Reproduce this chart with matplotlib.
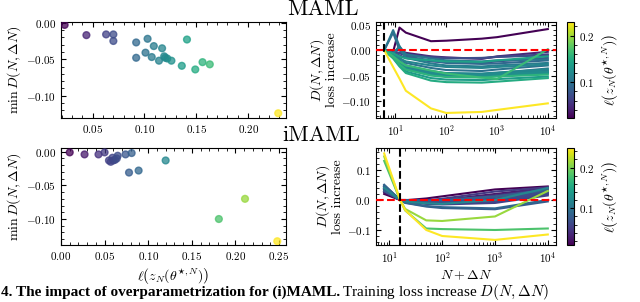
import numpy as np
import matplotlib
matplotlib.use("Agg")
import matplotlib.pyplot as plt
from matplotlib import cm, colors

plt.rcParams["font.family"] = "cmr10"
plt.rcParams["mathtext.fontset"] = "cm"
plt.rcParams["axes.formatter.use_mathtext"] = True
plt.rcParams["axes.unicode_minus"] = True

# ---- MAML: per-task loss at N and min loss increase ----
maml_loss = [0.023, 0.044, 0.063, 0.070, 0.070, 0.092, 0.092, 0.101, 0.103, 0.107, 0.109, 0.114,
             0.117, 0.119, 0.120, 0.122, 0.126, 0.136, 0.141, 0.149, 0.156, 0.163, 0.229]
maml_min = [-0.003, -0.017, -0.016, -0.016, -0.025, -0.027, -0.048, -0.041, -0.022, -0.047, -0.032, -0.052,
            -0.035, -0.046, -0.048, -0.049, -0.052, -0.059, -0.023, -0.064, -0.054, -0.057, -0.124]

maml_n = [6, 9, 12, 16, 50, 100, 500, 1000, 10000]
maml_curves = [
    [0, -0.003, 0.045, 0.035, 0.018, 0.019, 0.023, 0.026, 0.042],
    [0, -0.002, 0.002, -0.005, -0.012, -0.014, -0.017, -0.012, -0.003],
    [0, -0.003, -0.005, -0.008, -0.013, -0.015, -0.016, -0.013, -0.008],
    [0, -0.002, -0.006, -0.010, -0.014, -0.016, -0.015, -0.013, -0.010],
    [0, -0.004, -0.010, -0.015, -0.022, -0.024, -0.025, -0.022, -0.015],
    [0, 0.035, 0.000, -0.012, -0.020, -0.025, -0.027, -0.026, -0.020],
    [0, -0.010, -0.020, -0.030, -0.042, -0.046, -0.048, -0.046, -0.040],
    [0, -0.008, -0.015, -0.025, -0.035, -0.039, -0.041, -0.038, -0.030],
    [0, 0.040, 0.008, -0.008, -0.016, -0.020, -0.022, -0.020, -0.018],
    [0, -0.012, -0.022, -0.032, -0.043, -0.046, -0.047, -0.045, -0.036],
    [0, -0.006, 0.008, -0.015, -0.026, -0.030, -0.032, -0.030, -0.025],
    [0, -0.012, -0.025, -0.035, -0.048, -0.051, -0.052, -0.050, -0.045],
    [0, -0.008, -0.016, -0.022, -0.030, -0.033, -0.035, -0.033, -0.028],
    [0, -0.010, -0.020, -0.030, -0.041, -0.045, -0.046, -0.044, -0.038],
    [0, -0.011, -0.022, -0.033, -0.044, -0.047, -0.048, -0.046, -0.042],
    [0, -0.012, -0.024, -0.036, -0.046, -0.048, -0.049, -0.047, -0.043],
    [0, -0.014, -0.027, -0.038, -0.049, -0.051, -0.052, -0.050, -0.046],
    [0, -0.015, -0.030, -0.042, -0.055, -0.058, -0.059, -0.057, -0.052],
    [0, -0.006, -0.012, -0.016, -0.020, -0.022, -0.023, -0.020, -0.012],
    [0, -0.016, -0.032, -0.045, -0.060, -0.063, -0.064, -0.062, -0.055],
    [0, -0.014, -0.028, -0.038, -0.050, -0.053, -0.054, -0.052, -0.048],
    [0, -0.012, -0.022, -0.030, -0.040, -0.046, -0.054, -0.057, 0.002],
    [0, -0.033, -0.056, -0.080, -0.115, -0.124, -0.122, -0.118, -0.105],
]
maml_N = 6

# ---- iMAML ----
imaml_loss = [0.010, 0.027, 0.043, 0.050, 0.055, 0.057, 0.059, 0.060, 0.062, 0.064,
              0.065, 0.074, 0.078, 0.081, 0.089, 0.120, 0.181, 0.211, 0.248]
imaml_min = [-0.001, -0.004, -0.004, -0.001, -0.013, -0.015, -0.009, -0.013, -0.012, -0.010,
             -0.006, -0.004, -0.031, -0.002, -0.028, -0.013, -0.100, -0.070, -0.133]

imaml_n = [8, 16, 20, 50, 100, 1000, 10000]
imaml_curves = [
    [0.020, 0, -0.001, 0.005, 0.012, 0.035, 0.045],
    [0.025, 0, -0.002, -0.004, 0.000, 0.020, 0.040],
    [0.030, 0, -0.002, -0.004, -0.002, 0.015, 0.038],
    [0.030, 0, 0.000, -0.001, 0.004, 0.028, 0.042],
    [0.040, 0, -0.005, -0.011, -0.013, -0.005, 0.020],
    [0.035, 0, -0.006, -0.013, -0.015, -0.010, 0.015],
    [0.045, 0, -0.004, -0.008, -0.009, 0.000, 0.025],
    [0.050, 0, -0.005, -0.011, -0.013, -0.006, 0.020],
    [0.040, 0, -0.005, -0.010, -0.012, -0.004, 0.022],
    [0.045, 0, -0.004, -0.009, -0.010, 0.000, 0.028],
    [0.035, 0, -0.003, -0.005, -0.006, 0.005, 0.030],
    [0.040, 0, -0.002, -0.004, -0.002, 0.010, 0.035],
    [0.045, 0, -0.010, -0.022, -0.027, -0.031, -0.005],
    [0.030, 0, -0.001, -0.002, 0.000, 0.012, 0.033],
    [0.050, 0, -0.009, -0.020, -0.024, -0.028, 0.000],
    [0.040, 0, -0.005, -0.011, -0.013, 0.000, 0.040],
    [0.130, 0, -0.035, -0.095, -0.097, -0.100, -0.095],
    [0.145, 0, -0.030, -0.068, -0.070, -0.055, 0.030],
    [0.155, 0, -0.034, -0.100, -0.120, -0.133, -0.115],
]
imaml_N = 16

xlabel_loss = r"$\ell\left(z_N(\theta^{\star,N})\right)$"
W, H = 640, 302
fig = plt.figure(figsize=(W / 100, H / 100), dpi=100)


def box(l, t, r, b):
    return [l / W, 1 - b / H, (r - l) / W, (b - t) / H]


def style(ax):
    ax.minorticks_on()
    ax.tick_params(which="both", direction="in", top=True, right=True, labelsize=8)
    ax.tick_params(which="major", length=3.5)
    ax.tick_params(which="minor", length=2)


def row(top, bot, loss, mn, ns, curves, N, xlim_l, ylim_l, ylim_r, xticks_l, show_xlabel):
    norm = colors.Normalize(min(loss), max(loss))
    cmap = plt.get_cmap("viridis")

    ax1 = fig.add_axes(box(61, top, 286, bot))
    ax1.scatter(loss, mn, c=loss, cmap=cmap, norm=norm, s=24, alpha=0.75,
                edgecolors="face", linewidths=1.0, zorder=3)
    ax1.set_xlim(*xlim_l)
    ax1.set_ylim(*ylim_l)
    ax1.set_xticks(xticks_l)
    ax1.set_ylabel(r"$\min\, D(N, \Delta N)$", fontsize=10, labelpad=2)
    style(ax1)

    ax2 = fig.add_axes(box(376, top, 556, bot))
    for l, c in zip(loss, curves):
        ax2.plot(ns, c, color=cmap(norm(l)), lw=1.5)
    ax2.set_xscale("log")
    ax2.axhline(0, color="red", ls="--", lw=1.5, zorder=5)
    ax2.axvline(N, color="black", ls="--", lw=1.5, zorder=5)
    ax2.set_ylim(*ylim_r)
    ax2.set_ylabel("$D(N, \\Delta N)$\nloss increase", fontsize=10, labelpad=2, linespacing=1.0)
    style(ax2)

    cax = fig.add_axes(box(567, top, 574, bot))
    cb = fig.colorbar(cm.ScalarMappable(norm=norm, cmap=cmap), cax=cax)
    cb.set_ticks([0.1, 0.2])
    cb.ax.tick_params(labelsize=8, direction="in", length=3)
    cb.ax.minorticks_on()
    cb.set_label(xlabel_loss, fontsize=10, labelpad=4)

    if show_xlabel:
        ax1.set_xlabel(xlabel_loss, fontsize=10, labelpad=3)
        ax2.set_xlabel(r"$N + \Delta N$", fontsize=10, labelpad=3)
    return ax1, ax2


row(22, 118, maml_loss, maml_min, maml_n, maml_curves, maml_N,
    (0.0195, 0.2365), (-0.1305, 0.001), (-0.134, 0.056), [0.05, 0.10, 0.15, 0.20], False)
row(148, 245, imaml_loss, imaml_min, imaml_n, imaml_curves, imaml_N,
    (0.0, 0.258), (-0.1386, 0.0055), (-0.15, 0.173), [0.0, 0.05, 0.10, 0.15, 0.20, 0.25], True)

fig.text(0.505, 1 - 15 / H, "MAML", fontsize=16, ha="center", va="baseline")
fig.text(0.502, 1 - 141 / H, "iMAML", fontsize=16, ha="center", va="baseline")

fig.text(0.002, 1 - 296 / H, "4. The impact of overparametrization for (i)MAML.",
         fontsize=11, fontweight="bold", family="Liberation Serif", va="baseline")
fig.text(0.535, 1 - 296 / H, "Training loss increase $D(N, \\Delta N)$",
         fontsize=11, family="Liberation Serif", va="baseline")

fig.savefig("out.png", dpi=100)
